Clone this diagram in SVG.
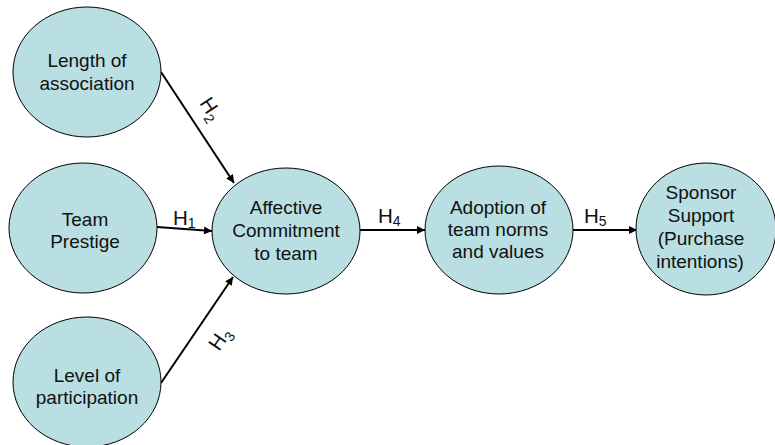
<svg xmlns="http://www.w3.org/2000/svg" width="775" height="445" viewBox="0 0 775 445">
  <style>
    .node { fill: #b9dfe2; stroke: #000; stroke-width: 1; }
    .lbl { font-family: "Liberation Sans", Arial, sans-serif; font-size: 19px; fill: #111; text-anchor: middle; }
    .h { font-family: "Liberation Sans", Arial, sans-serif; font-size: 20.5px; fill: #111; }
    .sub { font-size: 14px; }
    .edge { stroke: #000; stroke-width: 2; fill: none; marker-end: url(#arrow); }
  </style>
  <defs>
    <marker id="arrow" viewBox="0 0 10 10" refX="10" refY="5" markerWidth="5" markerHeight="4" markerUnits="strokeWidth" orient="auto">
      <path d="M0,0 L10,5 L0,10 z" fill="#000"/>
    </marker>
  </defs>
  <rect width="775" height="445" fill="#fff"/>

  <g id="connectors">
    <line class="edge" x1="161" y1="72" x2="234" y2="183"/>
    <line class="edge" x1="157" y1="227" x2="212" y2="231"/>
    <line class="edge" x1="161" y1="383" x2="233" y2="277"/>
    <line class="edge" x1="360" y1="230" x2="425" y2="230"/>
    <line class="edge" x1="573" y1="230" x2="637" y2="230"/>
    <text class="h" transform="translate(199,103) rotate(56.7)">H<tspan class="sub" dy="5">2</tspan></text>
    <text class="h" x="173" y="225">H<tspan class="sub" dy="3">1</tspan></text>
    <text class="h" transform="translate(219,352) rotate(-55.8)">H<tspan class="sub" dy="5">3</tspan></text>
    <text class="h" x="378" y="223">H<tspan class="sub" dy="3">4</tspan></text>
    <text class="h" x="584" y="223">H<tspan class="sub" dy="3">5</tspan></text>
  </g>

  <g id="length">
    <ellipse class="node" cx="87" cy="72" rx="74" ry="65"/>
    <text class="lbl" x="87" y="67">Length of</text>
    <text class="lbl" x="87" y="90">association</text>
  </g>
  <g id="prestige">
    <ellipse class="node" cx="83" cy="228" rx="74" ry="65"/>
    <text class="lbl" x="85" y="226">Team</text>
    <text class="lbl" x="85" y="248">Prestige</text>
  </g>
  <g id="participation">
    <ellipse class="node" cx="87" cy="382" rx="74" ry="65"/>
    <text class="lbl" x="87" y="382">Level of</text>
    <text class="lbl" x="87" y="404">participation</text>
  </g>
  <g id="commitment">
    <ellipse class="node" cx="286" cy="231" rx="74" ry="63"/>
    <text class="lbl" x="286" y="214">Affective</text>
    <text class="lbl" x="286" y="237">Commitment</text>
    <text class="lbl" x="286" y="260">to team</text>
  </g>
  <g id="adoption">
    <ellipse class="node" cx="499" cy="230" rx="74" ry="64"/>
    <text class="lbl" x="498" y="214">Adoption of</text>
    <text class="lbl" x="498" y="236">team norms</text>
    <text class="lbl" x="498" y="258">and values</text>
  </g>
  <g id="sponsor">
    <ellipse class="node" cx="706" cy="229" rx="70" ry="66"/>
    <text class="lbl" x="701" y="199">Sponsor</text>
    <text class="lbl" x="701" y="222">Support</text>
    <text class="lbl" x="701" y="245">(Purchase</text>
    <text class="lbl" x="700" y="268">intentions)</text>
  </g>
</svg>
